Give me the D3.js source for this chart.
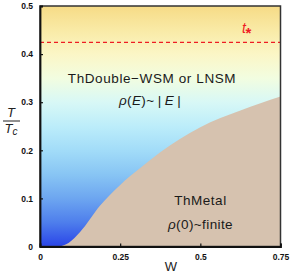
<!DOCTYPE html>
<html><head><meta charset="utf-8">
<script src="https://cdn.jsdelivr.net/npm/d3@7"></script>
<style>body{margin:0;background:#fff}svg{display:block}</style>
</head><body>
<script>
const xTicks = [0, 0.25, 0.5, 0.75];
const xTickLabels = ["0", "0.25", "0.5", "0.75"];
const yTicks = [0, 0.1, 0.2, 0.3, 0.4, 0.5];
const yTickLabels = ["0", "0.1", "0.2", "0.3", "0.4", "0.5"];
const boundaryW = [0.0625, 0.09, 0.125, 0.1875, 0.25, 0.3125, 0.375, 0.4375, 0.5, 0.5625, 0.625, 0.6875, 0.75];
const boundaryT = [0, 0.008, 0.03, 0.085, 0.128, 0.163, 0.196, 0.224, 0.248, 0.267, 0.283, 0.298, 0.312];
const tStar = 0.4245;
const gradT = [0, 0.05, 0.1, 0.15, 0.2, 0.25, 0.3, 0.35, 0.4, 0.45, 0.5];
const gradColors = ["#2a45e8", "#4e7eec", "#6da6f0", "#88c5f4", "#a2dcf8", "#bcedfa", "#d8f8f6", "#f2fde0", "#fbf6c6", "#f9eaa6", "#f6db86"];

const W = 291, H = 280;
const svg = d3.select("body").append("svg").attr("width", W).attr("height", H);
const x = d3.scaleLinear().domain([0, 0.75]).range([40, 280.5]);
const y = d3.scaleLinear().domain([0, 0.5]).range([246.5, 6]);

const defs = svg.append("defs");
const lg = defs.append("linearGradient").attr("id", "bg").attr("gradientUnits", "userSpaceOnUse")
  .attr("x1", 0).attr("x2", 0).attr("y1", y(0)).attr("y2", y(0.5));
gradT.forEach((t, i) => lg.append("stop").attr("offset", t / 0.5).attr("stop-color", gradColors[i]));

svg.append("rect").attr("x", x(0)).attr("y", y(0.5)).attr("width", x(0.75) - x(0)).attr("height", y(0) - y(0.5)).attr("fill", "url(#bg)");

const pts = boundaryW.map((w, i) => [w, boundaryT[i]]);
const area = d3.area().x(d => x(d[0])).y0(y(0)).y1(d => y(d[1])).curve(d3.curveMonotoneX);
svg.append("path").datum(pts).attr("d", area).attr("fill", "#d6c2af");

svg.append("line").attr("x1", x(0)).attr("x2", x(0.75)).attr("y1", y(tStar)).attr("y2", y(tStar))
  .attr("stroke", "#ee1c24").attr("stroke-width", 1.3).attr("stroke-dasharray", "4,3");

const tl = svg.append("text").attr("x", 242).attr("y", 32.5).attr("fill", "#ee1c24")
  .attr("font-family", "Liberation Sans, sans-serif").attr("font-style", "italic").attr("font-size", 14);
tl.append("tspan").text("t");
tl.append("tspan").attr("dx", -0.5).attr("dy", 5).attr("font-size", 15).attr("font-style", "normal").attr("font-weight", "bold").text("*");

const font = "Liberation Sans, Arial, sans-serif";
function txt(xx, yy, parts, size, ls) {
  const t = svg.append("text").attr("x", xx).attr("y", yy).attr("text-anchor", "middle")
    .attr("font-family", font).attr("font-size", size).attr("fill", "#1a1a1a").attr("letter-spacing", ls);
  parts.forEach(p => t.append("tspan").attr("font-style", p[1] ? "italic" : "normal").text(p[0]));
}
txt(152, 82.5, [["ThDouble\u2212WSM or LNSM", false]], 13.5, 0.6);
txt(150, 105, [["\u03c1", true], ["(", false], ["E", true], [")~\u2009|\u2009", false], ["E", true], ["\u2009|", false]], 13.5, 0.4);
txt(200.5, 204.5, [["ThMetal", false]], 13.5, 0.5);
txt(200.5, 228.5, [["\u03c1", true], ["(0)~finite", false]], 13.5, 0.4);

// frame
svg.append("rect").attr("x", x(0)).attr("y", y(0.5)).attr("width", x(0.75) - x(0)).attr("height", y(0) - y(0.5))
  .attr("fill", "none").attr("stroke", "#333").attr("stroke-width", 1.5);

const xAxis = d3.axisBottom(x).tickValues(xTicks).tickSize(-3).tickPadding(7).tickFormat((d, i) => xTickLabels[i]);
const gx = svg.append("g").attr("transform", `translate(0,${y(0)})`).call(xAxis);
const yAxis = d3.axisLeft(y).tickValues(yTicks).tickSize(-3).tickPadding(7).tickFormat((d, i) => yTickLabels[i]);
const gy = svg.append("g").attr("transform", `translate(${x(0)},0)`).call(yAxis);
[gx, gy].forEach(g => {
  g.select(".domain").attr("stroke", "#111").attr("stroke-width", 1.8);
  g.selectAll(".tick line").attr("stroke", "#111").attr("stroke-width", 1.2);
  g.selectAll(".tick text").attr("font-family", font).attr("font-weight", "bold").attr("font-size", 8.5).attr("fill", "#111");
});

// axis titles
svg.append("text").attr("x", 171).attr("y", 271).attr("text-anchor", "middle").attr("font-family", font).attr("font-size", 13).attr("fill", "#222").text("W");
svg.append("text").attr("x", 11).attr("y", 117).attr("text-anchor", "middle").attr("font-family", font).attr("font-style", "italic").attr("font-size", 13).attr("fill", "#222").text("T");
svg.append("line").attr("x1", 3).attr("x2", 20).attr("y1", 121).attr("y2", 121).attr("stroke", "#222").attr("stroke-width", 1);
const tc = svg.append("text").attr("x", 11).attr("y", 133).attr("text-anchor", "middle").attr("font-family", font).attr("font-style", "italic").attr("font-size", 13).attr("fill", "#222");
tc.append("tspan").text("T");
tc.append("tspan").attr("font-size", 10).attr("dy", 2).text("c");
</script>
</body></html>
